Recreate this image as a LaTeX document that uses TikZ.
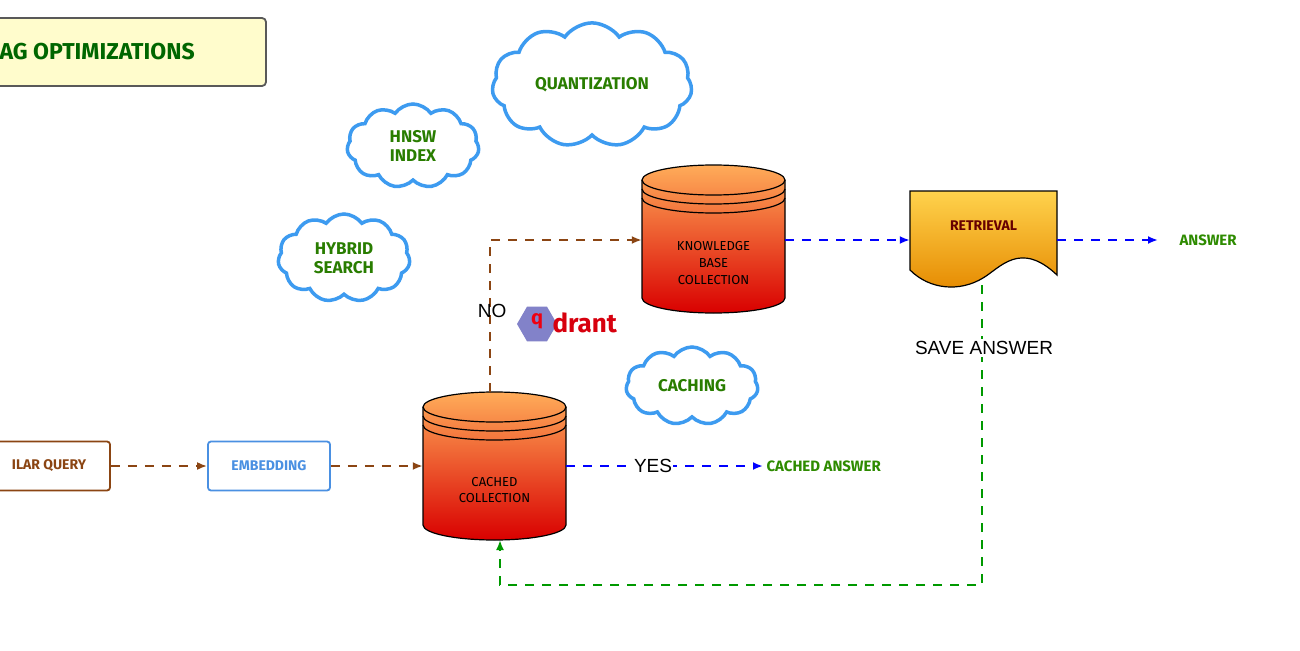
\documentclass[tikz,border=0pt]{standalone}
\usepackage{fontspec}
\setmainfont{Fira Sans}
\newfontfamily\plainf{Liberation Sans}
\usetikzlibrary{shapes.symbols,shapes.geometric,arrows.meta}
\definecolor{brn}{HTML}{8B4513}
\definecolor{bl}{HTML}{4A90E2}
\definecolor{gr}{HTML}{2E8B00}
\definecolor{cld}{HTML}{3D9BF0}
\begin{document}
\begin{tikzpicture}[x=1pt,y=-1pt,
  cloudn/.style={cloud,cloud puffs=11,cloud puff arc=110,aspect=1.6,draw=cld,line width=3.5pt,fill=white,font=\bfseries\fontsize{17}{19}\selectfont,text=gr!90!black,align=center,inner sep=2pt},
  box/.style={draw,line width=1.8pt,rounded corners=3pt,minimum height=49pt,font=\bfseries\fontsize{14}{16}\selectfont,fill=white},
  dsh/.style={dashed,line width=2pt,dash pattern=on 9pt off 8pt,-{Latex[length=10pt,width=8pt]}},
  lbl/.style={font=\plainf\fontsize{19}{21}\selectfont},
  ct/.style={font=\fontsize{13}{16}\selectfont,align=center}]
\useasboundingbox (0,0) rectangle (1300,650);
\clip (0,0) rectangle (1300,650);
\fill[white] (0,0) rectangle (1300,650);
% title
\node[draw=gray!70!black,line width=1.8pt,rounded corners=4pt,fill=yellow!20,minimum width=276pt,minimum height=68pt] (title) at (128,52) {};
\node[font=\bfseries\fontsize{23}{26}\selectfont,text=green!40!black,anchor=west] (tt) at (-4,52) {AG OPTIMIZATIONS};
% clouds
\node[cloudn,minimum width=200pt,minimum height=110pt] (q) at (592,85) {QUANTIZATION};
\node[cloudn,minimum width=132pt,minimum height=84pt] (h) at (413,146) {HNSW\\INDEX};
\node[cloudn,minimum width=132pt,minimum height=88pt] (hy) at (344,258) {HYBRID\\SEARCH};
\node[cloudn,minimum width=132pt,minimum height=78pt] (ca) at (692,386) {CACHING};
% boxes
\node[box,draw=brn,text=brn,minimum width=122pt] (sim) at (49,466) {ILAR QUERY};
\node[box,draw=bl,text=bl,minimum width=122pt] (emb) at (269,466) {EMBEDDING};
% cylinders
\newcommand{\mycyl}[5]{% name, cx, top, bottom, text
  \shade[top color=orange!65!white,bottom color=red!85!black,draw=black,line width=1.2pt]
    (#2-71.5,#3) -- (#2-71.5,#4) arc[start angle=180,end angle=360,x radius=71.5,y radius=-15] -- (#2+71.5,#3) arc[start angle=0,end angle=180,x radius=71.5,y radius=-15] -- cycle;
  \draw[line width=1.2pt] (#2-71.5,#3) arc[start angle=180,end angle=360,x radius=71.5,y radius=-15];
  \draw[line width=1.2pt] (#2-71.5,#3+9) arc[start angle=180,end angle=360,x radius=71.5,y radius=-15];
  \draw[line width=1.2pt] (#2-71.5,#3+18) arc[start angle=180,end angle=360,x radius=71.5,y radius=-15];
  \node[minimum width=143pt,minimum height=#4-#3+30pt,inner sep=0] (#1) at (#2,{(#3+#4)/2}) {};
  \node[ct] at (#2,{(#3+#4)/2+24}) {#5};}
\mycyl{cc}{494.5}{407}{525}{CACHED\\COLLECTION}
\mycyl{kb}{713.5}{180}{298}{KNOWLEDGE\\[1pt]BASE\\[1pt]COLLECTION}
% retrieval
\shade[top color=orange!50!yellow!70!white,bottom color=orange!80!yellow!90!black,draw=black,line width=1.2pt]
  (910,191) -- (1057,191) -- (1057,275) .. controls (1020,240) and (1000,268) .. (983,278) .. controls (960,292) and (930,290) .. (910,270) -- cycle;
\node[minimum width=147pt,minimum height=94pt,inner sep=0] (ret) at (983.5,238) {};
\node[font=\bfseries\fontsize{14}{16}\selectfont,text=red!40!black] at (983.5,226) {RETRIEVAL};
% answer texts
\node[font=\bfseries\fontsize{15}{17}\selectfont,text=gr,anchor=west] (ans) at (1176,240) {ANSWER};
\node[font=\bfseries\fontsize{15}{17}\selectfont,text=gr,anchor=west] (cans) at (763,466) {CACHED ANSWER};
% qdrant logo
\node[regular polygon,regular polygon sides=6,fill=blue!40!gray!70,minimum size=40pt,inner sep=0] (logo) at (537,324) {};
\node[font=\bfseries\fontsize{20}{22}\selectfont,text=red!75!purple] at (537,321) {q};
\node[font=\bfseries\fontsize{26}{28}\selectfont,text=red!75!purple!90!black,anchor=west] (drant) at (549,323) {drant};
% connectors
\draw[dsh,brn] (sim.east) -- (emb.west);
\draw[dsh,brn] (emb.east) -- (cc.west |- emb.east);
\coordinate (nc) at (490,240);
\draw[dsh,brn] (490,392) -- (nc) -- (kb.west |- nc);
\node[lbl,anchor=east] at (510,311) {NO};
\draw[dsh,blue] (cc.east |- cans) -- (cans.west);
\node[lbl,fill=white,inner sep=1pt] at (653,466) {YES};
\draw[dsh,blue] (785,240) -- (ret.west |- nc);
\draw[dsh,blue] (ret.east |- nc) -- (1158,240);
\coordinate (g1) at (982,585);
\coordinate (g2) at (500,585);
\draw[dsh,green!60!black] (982,285) -- (g1) -- (g2) -- (500,540);
\node[lbl,fill=white,inner sep=2pt] at (984,348) {SAVE ANSWER};
\end{tikzpicture}
\end{document}
